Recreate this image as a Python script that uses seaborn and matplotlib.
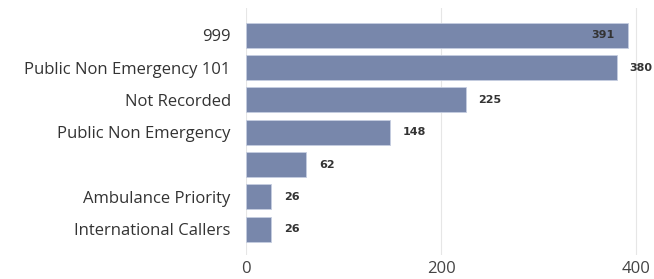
import pandas as pd
import numpy as np
import matplotlib
matplotlib.use("Agg")
import matplotlib.pyplot as plt
import seaborn as sns

categories = ["999", "Public Non Emergency 101", "Not Recorded", "Public Non Emergency",
              " ", "Ambulance Priority", "International Callers"]
counts = [391, 380, 225, 148, 62, 26, 26]

if __name__ == "__main__":
    sns.set_style({'axes.grid': False})
    plt.rcParams['font.family'] = ['Open Sans', 'DejaVu Sans']

    df = pd.DataFrame({'category': categories, 'count': counts})

    fig = plt.figure(figsize=(6.54, 2.79), dpi=100)
    ax = fig.add_axes([0.376, 0.086, 0.624, 0.885])
    ax.set_facecolor('white')

    sns.barplot(data=df, x='count', y='category', orient='h', color='#7887AB',
                saturation=1, width=0.78, edgecolor='#c5cde0', linewidth=0.6, ax=ax)

    ax.set_xlim(0, 418)
    ax.set_ylim(6.8, -0.84)
    ax.set_xticks([0, 200, 400])
    for x in [0, 200, 400]:
        ax.axvline(x, color='#e6e6e6', linewidth=0.8, zorder=0)

    # value labels: inside the bar if it gets close to the edge
    for i, v in enumerate(counts):
        if v > 385:
            ax.text(v - 13, i, str(v), ha='right', va='center', fontsize=8,
                    color='#333333', family='DejaVu Sans', fontweight='bold')
        else:
            ax.text(v + 13, i, str(v), ha='left', va='center', fontsize=8,
                    color='#333333', family='DejaVu Sans', fontweight='bold')

    ax.set_xlabel('')
    ax.set_ylabel('')
    for s in ax.spines.values():
        s.set_visible(False)
    ax.tick_params(axis='both', length=0)
    ax.tick_params(axis='y', labelsize=12, labelcolor='#333333', pad=11)
    ax.tick_params(axis='x', labelsize=12, labelcolor='#444444', pad=4)

    fig.savefig('out.png', dpi=100)
